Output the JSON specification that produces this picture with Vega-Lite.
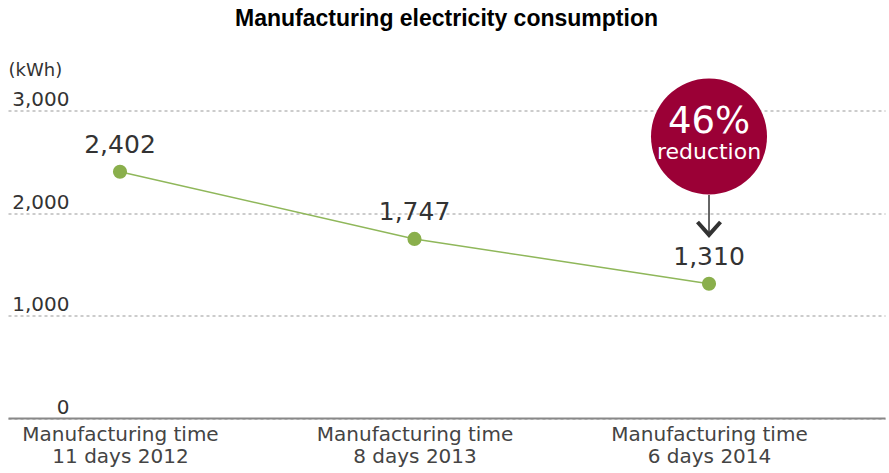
{
  "$schema": "https://vega.github.io/schema/vega-lite/v6.json",
  "autosize": "none",
  "width": 877,
  "height": 307.5,
  "padding": {"left": 8, "top": 110.5, "right": 4, "bottom": 55},
  "background": "white",
  "config": {"view": {"stroke": null}},
  "title": {
    "text": "Manufacturing electricity consumption",
    "font": "Liberation Sans",
    "fontSize": 23,
    "fontWeight": "bold",
    "color": "#000000",
    "anchor": "middle",
    "offset": 31
  },
  "datasets": {
    "main": [
      {"year": 2012, "days": 11, "kwh": 2402},
      {"year": 2013, "days": 8, "kwh": 1747},
      {"year": 2014, "days": 6, "kwh": 1310}
    ],
    "badge": [
      {"year": 2014, "y": 2746, "pct": "46%", "pctY": 2888, "word": "reduction", "wordY": 2595, "arrowTop": 2176, "arrowEnd": 1800, "headY": 1849}
    ]
  },
  "encoding": {
    "x": {
      "field": "year",
      "type": "quantitative",
      "scale": {"domain": [2011.6197, 2014.5976], "nice": false, "zero": false},
      "axis": {
        "orient": "bottom",
        "title": null,
        "values": [2012, 2013, 2014],
        "labelAngle": 0,
        "labelExpr": "['Manufacturing time', (datum.value == 2012 ? '11' : datum.value == 2013 ? '8' : '6') + ' days ' + datum.value]",
        "labelFont": "DejaVu Sans",
        "labelFontSize": 20,
        "labelColor": "#444444",
        "labelLineHeight": 22,
        "labelPadding": 6,
        "labelLimit": 0,
        "labelFlush": false,
        "labelOverlap": false,
        "ticks": false,
        "domain": true,
        "domainColor": "#888888",
        "domainWidth": 2,
        "grid": false
      }
    }
  },
  "layer": [
    {
      "data": {"name": "main"},
      "mark": {"type": "line", "color": "#8fb75a", "strokeWidth": 1.5},
      "encoding": {
        "y": {
          "field": "kwh",
          "type": "quantitative",
          "scale": {"domain": [0, 3000], "nice": false, "zero": true},
          "axis": {
            "values": [0, 1000, 2000, 3000],
            "format": ",d",
            "domain": false,
            "ticks": false,
            "grid": true,
            "gridColor": "#999999",
            "gridDash": [3, 3],
            "gridWidth": 1,
            "labelAlign": "right",
            "labelBaseline": "alphabetic",
            "labelOffset": -5,
            "labelPadding": -61,
            "labelFont": "DejaVu Sans",
            "labelFontSize": 20,
            "labelColor": "#333333",
            "title": "(kWh)",
            "titleAngle": 0,
            "titleX": 0,
            "titleY": -40,
            "titleAlign": "left",
            "titleBaseline": "middle",
            "titleFont": "DejaVu Sans",
            "titleFontSize": 18,
            "titleFontWeight": "normal",
            "titleColor": "#333333"
          }
        }
      }
    },
    {
      "data": {"name": "main"},
      "mark": {"type": "point", "filled": true, "color": "#8aaf4c", "size": 200, "opacity": 1},
      "encoding": {"y": {"field": "kwh", "type": "quantitative"}}
    },
    {
      "data": {"name": "main"},
      "mark": {"type": "text", "dy": -27, "font": "DejaVu Sans", "fontSize": 25, "color": "#333333", "baseline": "middle"},
      "encoding": {
        "y": {"field": "kwh", "type": "quantitative"},
        "text": {"field": "kwh", "type": "quantitative", "format": ",d"}
      }
    },
    {
      "data": {"name": "badge"},
      "mark": {"type": "rule", "color": "#333333", "strokeWidth": 1.5},
      "encoding": {
        "y": {"field": "arrowTop", "type": "quantitative"},
        "y2": {"field": "arrowEnd"}
      }
    },
    {
      "data": {"name": "badge"},
      "mark": {"type": "point", "shape": "M-1,-0.56L0,0.56L1,-0.56", "filled": false, "color": "#333333", "strokeWidth": 4, "size": 529, "opacity": 1},
      "encoding": {"y": {"field": "headY", "type": "quantitative"}}
    },
    {
      "data": {"name": "badge"},
      "mark": {"type": "point", "shape": "circle", "filled": true, "color": "#9b0036", "size": 13456, "opacity": 1},
      "encoding": {"y": {"field": "y", "type": "quantitative"}}
    },
    {
      "data": {"name": "badge"},
      "mark": {"type": "text", "font": "DejaVu Sans", "fontSize": 37, "color": "white", "baseline": "middle"},
      "encoding": {
        "y": {"field": "pctY", "type": "quantitative"},
        "text": {"field": "pct"}
      }
    },
    {
      "data": {"name": "badge"},
      "mark": {"type": "text", "font": "DejaVu Sans", "fontSize": 22, "color": "white", "baseline": "middle"},
      "encoding": {
        "y": {"field": "wordY", "type": "quantitative"},
        "text": {"field": "word"}
      }
    }
  ]
}
